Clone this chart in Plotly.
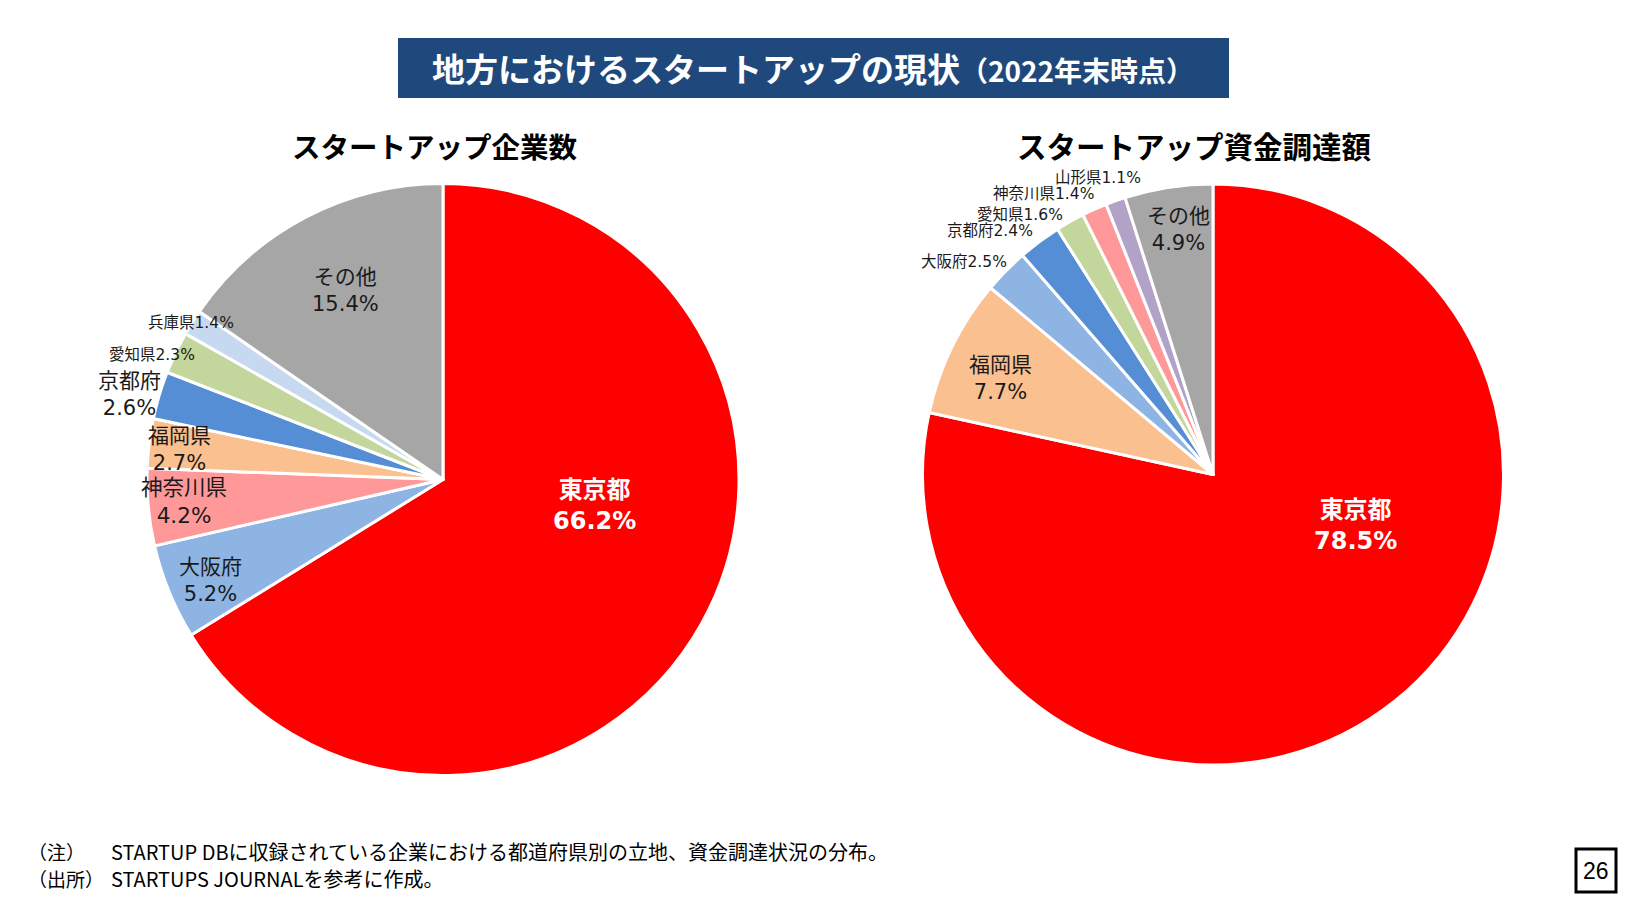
import plotly.graph_objects as go

# ---------------- data ----------------
left_labels = ["東京都", "大阪府", "神奈川県", "福岡県", "京都府", "愛知県", "兵庫県", "その他"]
left_values = [66.2, 5.2, 4.2, 2.7, 2.6, 2.3, 1.4, 15.4]
left_colors = ["#FF0000", "#8EB4E3", "#FF9999", "#FAC090", "#558ED5", "#C3D69B", "#C6D9F1", "#A6A6A6"]

right_labels = ["東京都", "福岡県", "大阪府", "京都府", "愛知県", "神奈川県", "山形県", "その他"]
right_values = [78.5, 7.7, 2.5, 2.4, 1.6, 1.4, 1.1, 4.9]
right_colors = ["#FF0000", "#FAC090", "#8EB4E3", "#558ED5", "#C3D69B", "#FF9999", "#B3A2C7", "#A6A6A6"]

# label layout: (x px, y px, two-line?, font size, bold/white)
left_label_pos = [(594, 505, True, 24, True), (210, 580, True, 21, False), (184, 502, True, 21.5, False),
                  (179, 449, True, 21, False), (129, 395, True, 21, False), (152, 355, False, 15.5, False),
                  (191, 323, False, 15.5, False), (345, 290, True, 21, False)]
right_label_pos = [(1355, 525, True, 24, True), (1000, 378, True, 21, False), (964, 262, False, 15.5, False),
                   (990, 231, False, 15.5, False), (1020, 215, False, 15.5, False), (1043, 194, False, 15.5, False),
                   (1098, 178, False, 15.5, False), (1178, 229, True, 21, False)]

W, H = 1625, 898
FONT = "Noto Sans CJK JP"
LABEL_FONT = "DejaVu Sans, Noto Sans CJK JP"

fig = go.Figure()

def add_pie(labels, values, colors, cx, cy, r):
    fig.add_trace(go.Pie(
        labels=labels, values=values, sort=False, direction="clockwise", rotation=0,
        marker=dict(colors=colors, line=dict(color="white", width=3)),
        textinfo="none", hoverinfo="label+percent", showlegend=False,
        domain=dict(x=[(cx - r) / W, (cx + r) / W], y=[1 - (cy + r) / H, 1 - (cy - r) / H]),
    ))

add_pie(left_labels, left_values, left_colors, 443, 479.5, 296)
add_pie(right_labels, right_values, right_colors, 1213, 474.5, 290.5)

annotations = []

def add_labels(labels, values, pos):
    for name, v, (x, y, two, size, bold) in zip(labels, values, pos):
        txt = f"{name}<br>{v:.1f}%" if two else f"{name}{v:.1f}%"
        if bold:
            txt = f"<b>{txt}</b>"
        annotations.append(dict(
            x=x / W, y=1 - y / H, xref="paper", yref="paper", text=txt, showarrow=False,
            font=dict(family=LABEL_FONT, size=size, color="white" if bold else "#1a1a1a"),
            xanchor="center", yanchor="middle", align="center",
        ))

add_labels(left_labels, left_values, left_label_pos)
add_labels(right_labels, right_values, right_label_pos)

# title
annotations.append(dict(x=813 / W, y=1 - 68 / H, xref="paper", yref="paper", showarrow=False,
                        text="<b>地方におけるスタートアップの現状<span style='font-size:28px'>（2022年末時点）</span></b>",
                        font=dict(family=FONT, size=33, color="white"), xanchor="center", yanchor="middle"))
# subtitles
annotations.append(dict(x=435 / W, y=1 - 145 / H, xref="paper", yref="paper", showarrow=False,
                        text="<b>スタートアップ企業数</b>", font=dict(family=FONT, size=28.5, color="black"),
                        xanchor="center", yanchor="middle"))
annotations.append(dict(x=1194 / W, y=1 - 145 / H, xref="paper", yref="paper", showarrow=False,
                        text="<b>スタートアップ資金調達額</b>", font=dict(family=FONT, size=29.5, color="black"),
                        xanchor="center", yanchor="middle"))
# footnotes
for (lab, txt, y) in [("（注）", "STARTUP DBに収録されている企業における都道府県別の立地、資金調達状況の分布。", 851),
                      ("（出所）", "STARTUPS JOURNALを参考に作成。", 878)]:
    annotations.append(dict(x=26 / W, y=1 - y / H, xref="paper", yref="paper", showarrow=False, text=lab,
                            font=dict(family=FONT, size=19, color="black"), xanchor="left", yanchor="middle"))
    annotations.append(dict(x=109 / W, y=1 - y / H, xref="paper", yref="paper", showarrow=False, text=txt,
                            font=dict(family=FONT, size=20, color="black"), xanchor="left", yanchor="middle"))
# page number
annotations.append(dict(x=1596 / W, y=1 - 871 / H, xref="paper", yref="paper", showarrow=False, text="26",
                        font=dict(family="Liberation Sans", size=23, color="black"), xanchor="center", yanchor="middle"))

shapes = [
    dict(type="rect", xref="paper", yref="paper", x0=398 / W, x1=1229 / W, y0=1 - 98 / H, y1=1 - 38 / H,
         fillcolor="#1F497D", line=dict(width=0), layer="below"),
    dict(type="rect", xref="paper", yref="paper", x0=1576 / W, x1=1616 / W, y0=1 - 892 / H, y1=1 - 849 / H,
         fillcolor="white", line=dict(color="black", width=3)),
]

fig.update_layout(width=W, height=H, margin=dict(l=0, r=0, t=0, b=0), paper_bgcolor="white",
                  plot_bgcolor="white", annotations=annotations, shapes=shapes, font=dict(family=FONT))

fig.write_html("out.html")
